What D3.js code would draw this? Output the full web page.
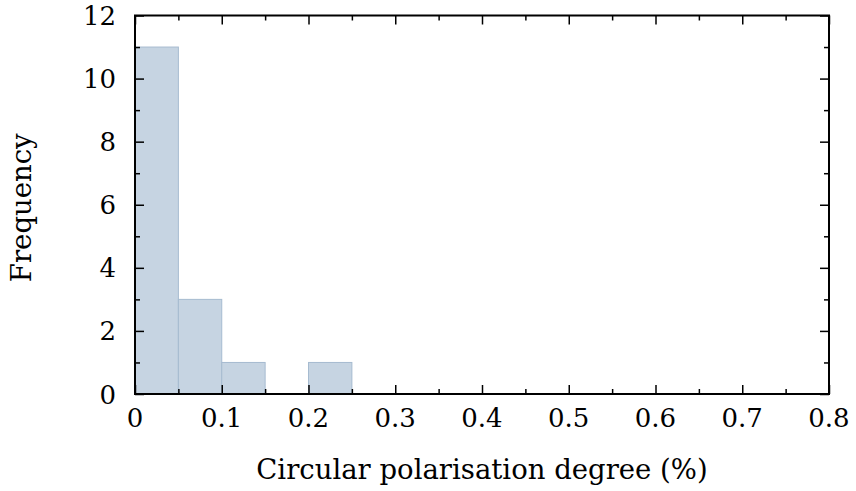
<!DOCTYPE html>
<html>
<head>
<meta charset="utf-8">
<script src="https://cdn.jsdelivr.net/npm/d3@7"></script>
<style>
  html, body { margin: 0; padding: 0; background: #fff; }
  svg text { font-family: "DejaVu Serif", "Liberation Serif", serif; fill: #000; }
</style>
</head>
<body>
<svg id="chart" width="856" height="491"></svg>
<script>
// Histogram of circular polarisation degree, bins of width 0.05 %
const binStarts = [0.00, 0.05, 0.10, 0.15, 0.20];
const binWidth = 0.05;
const counts = [11, 3, 1, 0, 1];

const xMajorTicks = [0, 0.1, 0.2, 0.3, 0.4, 0.5, 0.6, 0.7, 0.8];
const yMajorTicks = [0, 2, 4, 6, 8, 10, 12];

const xLabel = "Circular polarisation degree (%)";
const yLabel = "Frequency";

const W = 856, H = 491;
const margin = { left: 135, right: 27, top: 15.5, bottom: 97 };
const iw = W - margin.left - margin.right;
const ih = H - margin.top - margin.bottom;

const svg = d3.select("#chart");
const g = svg.append("g").attr("transform", `translate(${margin.left},${margin.top})`);

const x = d3.scaleLinear().domain([0, 0.8]).range([0, iw]);
const y = d3.scaleLinear().domain([0, 12]).range([ih, 0]);

const bins = binStarts.map((s, i) => ({ x0: s, x1: s + binWidth, n: counts[i] }));

// bars
g.selectAll("rect.bar")
  .data(bins.filter(d => d.n > 0))
  .join("rect")
  .attr("class", "bar")
  .attr("x", d => x(d.x0))
  .attr("y", d => y(d.n))
  .attr("width", d => x(d.x1) - x(d.x0))
  .attr("height", d => y(0) - y(d.n))
  .attr("fill", "#c6d4e2")
  .attr("stroke", "#a6bbd0")
  .attr("stroke-width", 1);

// inward ticks on all four sides
const xMinor = d3.range(0.05, 0.8, 0.1);
const yMinor = d3.range(1, 12, 2);
const majorLen = 9, minorLen = 5;

function tickAxis(axisFn, scale, ticks, len, transform) {
  const a = axisFn(scale).tickValues(ticks).tickSize(len).tickFormat("");
  const sel = g.append("g").attr("transform", transform).call(a);
  sel.select(".domain").remove();
  sel.selectAll("line").attr("stroke", "#000").attr("stroke-width", 1.5);
  return sel;
}
tickAxis(d3.axisTop, x, xMajorTicks, majorLen, `translate(0,${ih})`);
tickAxis(d3.axisTop, x, xMinor, minorLen, `translate(0,${ih})`);
tickAxis(d3.axisBottom, x, xMajorTicks, majorLen, `translate(0,0)`);
tickAxis(d3.axisBottom, x, xMinor, minorLen, `translate(0,0)`);
tickAxis(d3.axisRight, y, yMajorTicks, majorLen, `translate(0,0)`);
tickAxis(d3.axisRight, y, yMinor, minorLen, `translate(0,0)`);
tickAxis(d3.axisLeft, y, yMajorTicks, majorLen, `translate(${iw},0)`);
tickAxis(d3.axisLeft, y, yMinor, minorLen, `translate(${iw},0)`);

// frame
g.append("rect")
  .attr("x", 0).attr("y", 0).attr("width", iw).attr("height", ih)
  .attr("fill", "none").attr("stroke", "#000").attr("stroke-width", 2);

// tick labels
const fs = 26;
g.selectAll("text.xt")
  .data(xMajorTicks)
  .join("text")
  .attr("class", "xt")
  .attr("x", d => x(d))
  .attr("y", ih + 33)
  .attr("text-anchor", "middle")
  .style("font-size", fs + "px")
  .text(d => d === 0 ? "0" : d3.format(".1f")(d));

g.selectAll("text.yt")
  .data(yMajorTicks)
  .join("text")
  .attr("class", "yt")
  .attr("x", -19)
  .attr("y", d => y(d) + 9.5)
  .attr("text-anchor", "end")
  .style("font-size", fs + "px")
  .text(d => d);

// axis titles
svg.append("text")
  .attr("x", margin.left + iw / 2)
  .attr("y", 479)
  .attr("text-anchor", "middle")
  .style("font-size", "27.5px")
  .text(xLabel);

svg.append("text")
  .attr("transform", `translate(31,${margin.top + ih / 2 + 3}) rotate(-90)`)
  .attr("text-anchor", "middle")
  .style("font-size", "27.5px")
  .text(yLabel);
</script>
</body>
</html>
